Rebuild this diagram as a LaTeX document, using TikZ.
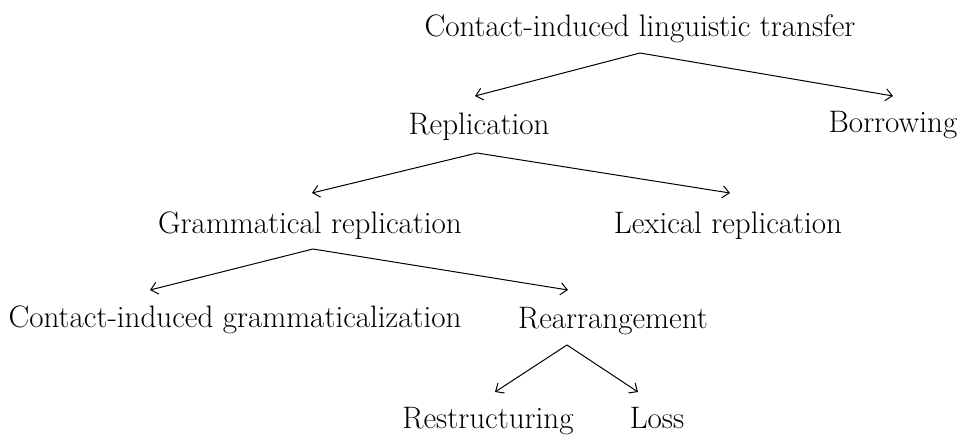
\documentclass[tikz,border=0pt]{standalone}
\usepackage{tikz}
\usetikzlibrary{arrows.meta, calc}

\tikzset{
  term/.style={anchor=base, inner sep=0pt, font=\fontsize{23.3}{28}\selectfont},
  branch/.style={-{Straight Barb[length=5pt, width=9pt]}, line width=0.75pt}
}

\begin{document}
\begin{tikzpicture}[x=0.75pt, y=-0.75pt]
  \useasboundingbox (0,0) rectangle (963,435);

  \node[term] (cilt) at (640,37) {Contact-induced linguistic transfer};
  \node[term] (repl) at (479,134) {Replication};
  \node[term] (borr) at (893,132) {Borrowing};
  \node[term] (gram) at (310,233) {Grammatical replication};
  \node[term] (lex) at (728,233) {Lexical replication};
  \node[term] (cig) at (235,327) {Contact-induced grammaticalization};
  \node[term] (rearr) at (613,328) {Rearrangement};
  \node[term] (restr) at (488,428) {Restructuring};
  \node[term] (loss) at (657,428) {Loss};

  \draw[branch] ($(cilt.base)+(0,16)$) -- ($(repl.base)+(-4,-38)$);
  \draw[branch] ($(cilt.base)+(0,16)$) -- ($(borr.base)+(0,-36)$);
  \draw[branch] ($(repl.base)+(-2,19)$) -- ($(gram.base)+(2,-40)$);
  \draw[branch] ($(repl.base)+(-2,19)$) -- ($(lex.base)+(2,-40)$);
  \draw[branch] ($(gram.base)+(3,16)$) -- ($(cig.base)+(-85,-37)$);
  \draw[branch] ($(gram.base)+(3,16)$) -- ($(rearr.base)+(-45,-38)$);
  \draw[branch] ($(rearr.base)+(-46,17)$) -- ($(restr.base)+(7,-36)$);
  \draw[branch] ($(rearr.base)+(-46,17)$) -- ($(loss.base)+(-19,-36)$);
\end{tikzpicture}
\end{document}
